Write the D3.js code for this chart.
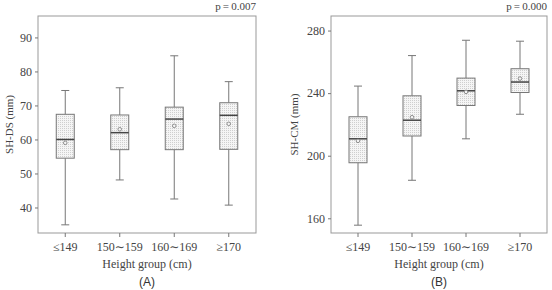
<!DOCTYPE html>
<html><head><meta charset="utf-8">
<script src="https://cdn.jsdelivr.net/npm/d3@7"></script>
<style>body{margin:0;background:#fff}svg{display:block}</style>
</head><body>
<svg id="c" width="552" height="290"></svg>
<script>
const categories = ["\u2264149", "150\u223C159", "160\u223C169", "\u2265170"];
// Panel A: SH-DS (mm)
const dsMin    = [34.9, 48.1, 42.5, 40.7];
const dsQ1     = [54.5, 57.0, 57.0, 57.1];
const dsMedian = [60.0, 62.0, 66.0, 67.1];
const dsQ3     = [67.4, 67.2, 69.5, 70.8];
const dsMax    = [74.4, 75.2, 84.6, 77.0];
const dsMean   = [59.0, 63.0, 64.0, 64.6];
const dsTicks  = [40, 50, 60, 70, 80, 90];
// Panel B: SH-CM (mm)
const cmMin    = [155.6, 184.3, 210.8, 226.5];
const cmQ1     = [195.5, 212.6, 232.1, 240.4];
const cmMedian = [210.8, 222.7, 241.5, 247.1];
const cmQ3     = [224.9, 238.3, 249.6, 255.6];
const cmMax    = [244.5, 264.0, 273.8, 273.2];
const cmMean   = [209.5, 224.6, 240.8, 249.3];
const cmTicks  = [160, 200, 240, 280];

const SERIF = "'Liberation Serif','DejaVu Serif',serif";
const svg = d3.select("#c");
const defs = svg.append("defs");
const pat = defs.append("pattern").attr("id","dots").attr("patternUnits","userSpaceOnUse")
  .attr("width",2).attr("height",2);
pat.append("rect").attr("width",2).attr("height",2).attr("fill","#f5f5f5");
pat.append("rect").attr("width",1).attr("height",1).attr("fill","#cfcfcf");

function panel(cfg){
  const {x0,x1,y0,y1,domain,ticks,mins,q1,med,q3,maxs,means,ylab,p,letter,ylabX} = cfg;
  const g = svg.append("g");
  const x = d3.scaleBand().domain(categories).range([x0,x1]).padding(0);
  const y = d3.scaleLinear().domain(domain).range([y1,y0]);
  g.append("rect").attr("x",x0).attr("y",y0).attr("width",x1-x0).attr("height",y1-y0)
    .attr("fill","none").attr("stroke","#999").attr("stroke-width",1);
  const ya = g.append("g").attr("transform",`translate(${x0},0)`)
    .call(d3.axisLeft(y).tickValues(ticks).tickSize(3).tickPadding(3));
  ya.select(".domain").remove();
  ya.selectAll("line").attr("stroke","#777");
  ya.selectAll("text").style("font-family",SERIF).style("font-size","12px").style("fill","#444");
  const xa = g.append("g").attr("transform",`translate(0,${y1})`)
    .call(d3.axisBottom(x).tickSize(4).tickPadding(5));
  xa.select(".domain").remove();
  xa.selectAll("line").attr("stroke","#777");
  xa.selectAll("text").style("font-family",SERIF).style("font-size","12px").style("fill","#444");
  const bw = 18, cw = 8;
  categories.forEach((c,i)=>{
    const cx = x(c)+x.bandwidth()/2;
    const gg = g.append("g");
    gg.append("line").attr("x1",cx).attr("x2",cx).attr("y1",y(maxs[i])).attr("y2",y(q3[i])).attr("stroke","#777");
    gg.append("line").attr("x1",cx).attr("x2",cx).attr("y1",y(q1[i])).attr("y2",y(mins[i])).attr("stroke","#777");
    gg.append("line").attr("x1",cx-cw/2).attr("x2",cx+cw/2).attr("y1",y(maxs[i])).attr("y2",y(maxs[i])).attr("stroke","#777");
    gg.append("line").attr("x1",cx-cw/2).attr("x2",cx+cw/2).attr("y1",y(mins[i])).attr("y2",y(mins[i])).attr("stroke","#777");
    gg.append("rect").attr("x",cx-bw/2).attr("width",bw).attr("y",y(q3[i])).attr("height",y(q1[i])-y(q3[i]))
      .attr("fill","url(#dots)").attr("stroke","#777");
    gg.append("line").attr("x1",cx-bw/2).attr("x2",cx+bw/2).attr("y1",y(med[i])).attr("y2",y(med[i])).attr("stroke","#444").attr("stroke-width",1.5);
    gg.append("circle").attr("cx",cx).attr("cy",y(means[i])).attr("r",1.8).attr("fill","#f4f4f4").attr("stroke","#777").attr("stroke-width",0.8);
  });
  g.append("text").attr("x",x1).attr("y",y0-6).attr("text-anchor","end")
    .style("font-family",SERIF).style("font-size","11px").style("fill","#444").text(p);
  g.append("text").attr("transform",`translate(${ylabX},${(y0+y1)/2}) rotate(-90)`).attr("text-anchor","middle")
    .attr("dy","0.35em").style("font-family",SERIF).style("font-size","11px").style("fill","#444").text(ylab);
  g.append("text").attr("x",(x0+x1)/2).attr("y",268).attr("text-anchor","middle")
    .style("font-family",SERIF).style("font-size","12px").style("fill","#444").text("Height group (cm)");
  g.append("text").attr("x",(x0+x1)/2).attr("y",286).attr("text-anchor","middle")
    .style("font-family","'Liberation Sans',Arial,sans-serif").style("font-size","12px").style("fill","#333").text(letter);
}

panel({x0:38,x1:256,y0:16,y1:233,domain:[32.5,96.3],ticks:dsTicks,mins:dsMin,q1:dsQ1,med:dsMedian,q3:dsQ3,maxs:dsMax,means:dsMean,
  ylab:"SH-DS (mm)",p:"p\u2009=\u20090.007",letter:"(A)",ylabX:9});
panel({x0:331,x1:547,y0:16,y1:233,domain:[150.6,289.3],ticks:cmTicks,mins:cmMin,q1:cmQ1,med:cmMedian,q3:cmQ3,maxs:cmMax,means:cmMean,
  ylab:"SH-CM (mm)",p:"p\u2009=\u20090.000",letter:"(B)",ylabX:294});
</script>
</body></html>
